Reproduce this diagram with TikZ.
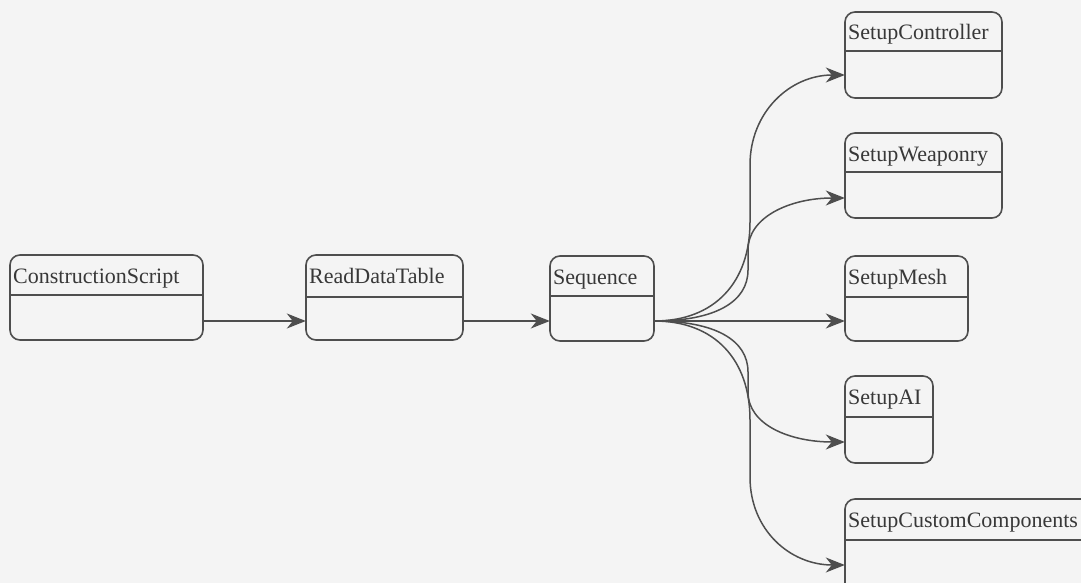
\documentclass[tikz,border=0pt]{standalone}
\usepackage{fontspec}
\setmainfont{Liberation Serif}
\usetikzlibrary{arrows.meta}
\definecolor{bg}{HTML}{F4F4F4}
\definecolor{ink}{HTML}{4E4E4E}
\definecolor{txt}{HTML}{383838}
\tikzset{
  umlbox/.style={draw=ink, line width=1.6pt, rounded corners=10pt},
  divline/.style={draw=ink, line width=1.5pt},
  title/.style={anchor=base west, inner sep=0pt, text=txt, font=\fontsize{22}{24}\selectfont},
  arr/.style={draw=ink, line width=1.5pt, -{Stealth[length=19pt,width=15pt,inset=6pt]}},
}
% \umlb{name}{x1}{y1}{x2}{y2}{divider y}{title}
\newcommand{\umlb}[7]{%
  \path[umlbox] (#2,#3) rectangle (#4,#5);
  \node[inner sep=0pt, minimum width={(#4-#2)*1pt}, minimum height={(#5-#3)*1pt}] (#1) at ({(#2+#4)/2},{(#3+#5)/2}) {};
  \draw[divline] (#2,#6) -- (#4,#6);
  \node[title] (#1-t) at (#2+3,#3+28) {#7};
}
\begin{document}
\begin{tikzpicture}[x=1pt,y=-1pt]
\clip (0,0) rectangle (1081,583);
\fill[bg] (0,0) rectangle (1081,583);
\umlb{cs}{10}{255}{203}{340}{295}{ConstructionScript}
\umlb{rdt}{306}{255}{463}{340}{297}{ReadDataTable}
\umlb{seq}{550}{256}{654}{341}{296}{Sequence}
\umlb{sc}{845}{12}{1002}{98}{51}{SetupController}
\umlb{sw}{845}{133}{1002}{218}{172}{SetupWeaponry}
\umlb{sm}{845}{256}{968}{341}{297}{SetupMesh}
\umlb{sai}{845}{376}{933}{463}{417}{SetupAI}
\umlb{scc}{845}{499}{1100}{600}{540}{SetupCustomComponents}
\coordinate (cs-out) at (cs.east |- 0,321);
\coordinate (rdt-in) at (rdt.west |- 0,321);
\coordinate (rdt-out) at (rdt.east |- 0,321);
\coordinate (seq-in) at (seq.west |- 0,321);
\coordinate (seq-out) at (seq.east |- 0,321);
\coordinate (sc-in) at (sc.west |- 0,75);
\coordinate (sw-in) at (sw.west |- 0,198);
\coordinate (sm-in) at (sm.west |- 0,321);
\coordinate (sai-in) at (sai.west |- 0,442);
\coordinate (scc-in) at (scc.west |- 0,565);
\draw[arr] (cs-out) -- (rdt-in);
\draw[arr] (rdt-out) -- (seq-in);
\draw[arr] (seq-out) .. controls (715,321) and (750,282) .. (750,222) -- (750,165) .. controls (750,112) and (790,75) .. (sc-in);
\draw[arr] (seq-out) .. controls (715,321) and (748,302) .. (748,270) -- (748,250) .. controls (748,217) and (790,198) .. (sw-in);
\draw[arr] (seq-out) -- (sm-in);
\draw[arr] (seq-out) .. controls (715,321) and (748,340) .. (748,372) -- (748,392) .. controls (748,425) and (790,442) .. (sai-in);
\draw[arr] (seq-out) .. controls (715,321) and (750,360) .. (750,420) -- (750,477) .. controls (750,530) and (790,565) .. (scc-in);
\end{tikzpicture}
\end{document}
